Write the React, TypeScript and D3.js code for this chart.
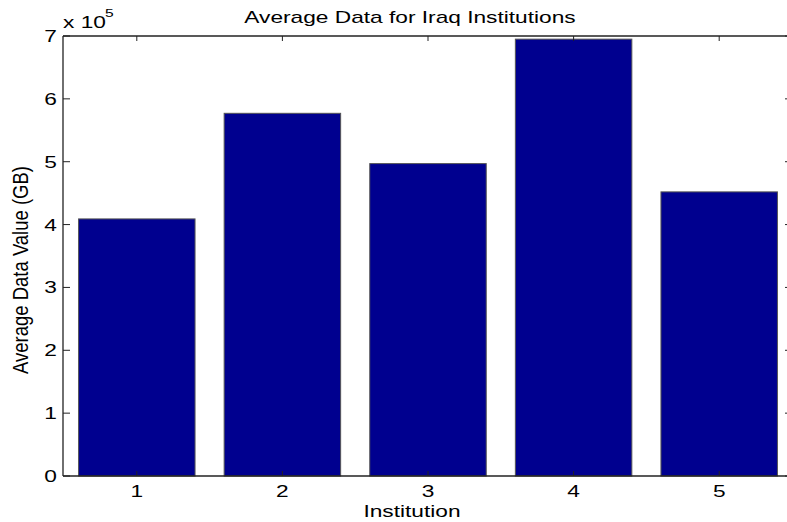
import React from "react";
import * as d3 from "d3";

const institutions = [1, 2, 3, 4, 5];
const avgValues = [409000, 577000, 497000, 695000, 452000];
const yTicks = [0, 1, 2, 3, 4, 5, 6, 7];

const W = 787;
const H = 522;
const plot = { left: 63, right: 792, top: 36, bottom: 476 };
const FONT = "'Liberation Sans', Arial, Helvetica, sans-serif";
const SX = 1.42; // the figure is stretched wider than tall

const Stretched: React.FC<{
  x: number;
  y: number;
  anchor?: string;
  size?: number;
  children: React.ReactNode;
}> = ({ x, y, anchor = "middle", size = 16, children }) => (
  <text
    transform={`translate(${x},${y}) scale(${SX},1)`}
    textAnchor={anchor}
    fontSize={size}
    fontFamily={FONT}
    fill="#000"
  >
    {children}
  </text>
);

const App: React.FC = () => {
  const x = d3
    .scaleLinear()
    .domain([0.5, 5.5])
    .range([plot.left + 1, plot.right]);
  const y = d3
    .scaleLinear()
    .domain([0, 7e5])
    .range([plot.bottom, plot.top]);
  const barW = x(1.4) - x(0.6);

  return (
    <svg
      width={W}
      height={H}
      style={{ position: "fixed", left: 0, top: 0, background: "#fff" }}
    >
      <rect width={W} height={H} fill="#fff" />

      {/* bars */}
      {institutions.map((d, i) => (
        <rect
          key={d}
          x={x(d) - barW / 2}
          y={y(avgValues[i])}
          width={barW}
          height={plot.bottom - y(avgValues[i])}
          fill="#00008f"
          stroke="#555"
          strokeWidth={1}
        />
      ))}

      {/* box */}
      <g stroke="#222" strokeWidth={1.3} fill="none">
        <line x1={plot.left} x2={plot.right} y1={plot.top} y2={plot.top} />
        <line x1={plot.left} x2={plot.right} y1={plot.bottom} y2={plot.bottom} />
        <line x1={plot.left} x2={plot.left} y1={plot.top} y2={plot.bottom} />
        <line x1={plot.right} x2={plot.right} y1={plot.top} y2={plot.bottom} />
      </g>

      {/* ticks */}
      <g stroke="#222" strokeWidth={1}>
        {yTicks.map((t) => (
          <g key={t}>
            <line x1={plot.left} x2={plot.left + 7} y1={y(t * 1e5)} y2={y(t * 1e5)} />
            <line x1={plot.right - 7} x2={plot.right} y1={y(t * 1e5)} y2={y(t * 1e5)} />
          </g>
        ))}
        {institutions.map((d) => (
          <g key={d}>
            <line x1={x(d)} x2={x(d)} y1={plot.top} y2={plot.top + 5} />
            <line x1={x(d)} x2={x(d)} y1={plot.bottom - 5} y2={plot.bottom} />
          </g>
        ))}
      </g>

      {yTicks.map((t) => (
        <Stretched key={t} x={57} y={y(t * 1e5) + 6} anchor="end">
          {t}
        </Stretched>
      ))}
      {institutions.map((d) => (
        <Stretched key={d} x={x(d)} y={497}>
          {d}
        </Stretched>
      ))}

      {/* exponent */}
      <Stretched x={63} y={28} anchor="start">
        x 10
      </Stretched>
      <Stretched x={105} y={17} anchor="start" size={11}>
        5
      </Stretched>

      <Stretched x={410} y={23}>
        Average Data for Iraq Institutions
      </Stretched>
      <Stretched x={412} y={517}>
        Institution
      </Stretched>
      <text
        transform="translate(28,270) rotate(-90) scale(1,1.18)"
        textAnchor="middle"
        fontSize={18.5}
        fontFamily={FONT}
        fill="#000"
      >
        Average Data Value (GB)
      </text>
    </svg>
  );
};

export default App;
